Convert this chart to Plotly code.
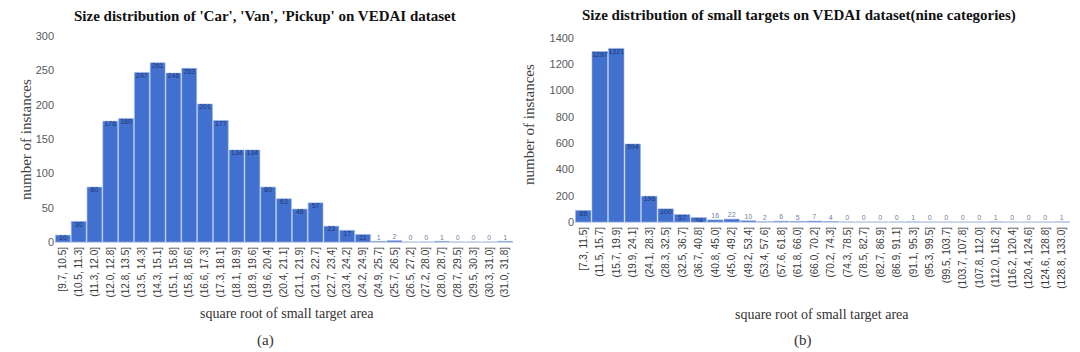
import plotly.graph_objects as go

# ---- data ----
cats_a = ["[9.7, 10.5]", "(10.5, 11.3]", "(11.3, 12.0]", "(12.0, 12.8]", "(12.8, 13.5]",
          "(13.5, 14.3]", "(14.3, 15.1]", "(15.1, 15.8]", "(15.8, 16.6]", "(16.6, 17.3]",
          "(17.3, 18.1]", "(18.1, 18.9]", "(18.9, 19.6]", "(19.6, 20.4]", "(20.4, 21.1]",
          "(21.1, 21.9]", "(21.9, 22.7]", "(22.7, 23.4]", "(23.4, 24.2]", "(24.2, 24.9]",
          "(24.9, 25.7]", "(25.7, 26.5]", "(26.5, 27.2]", "(27.2, 28.0]", "(28.0, 28.7]",
          "(28.7, 29.5]", "(29.5, 30.3]", "(30.3, 31.0]", "(31.0, 31.8]"]
vals_a = [10, 30, 80, 176, 180, 247, 261, 246, 253, 201, 177, 134, 134, 80, 63, 48, 57,
          23, 17, 11, 1, 2, 0, 0, 1, 0, 0, 0, 1]

cats_b = ["[7.3, 11.5]", "(11.5, 15.7]", "(15.7, 19.9]", "(19.9, 24.1]", "(24.1, 28.3]",
          "(28.3, 32.5]", "(32.5, 36.7]", "(36.7, 40.8]", "(40.8, 45.0]", "(45.0, 49.2]",
          "(49.2, 53.4]", "(53.4, 57.6]", "(57.6, 61.8]", "(61.8, 66.0]", "(66.0, 70.2]",
          "(70.2, 74.3]", "(74.3, 78.5]", "(78.5, 82.7]", "(82.7, 86.9]", "(86.9, 91.1]",
          "(91.1, 95.3]", "(95.3, 99.5]", "(99.5, 103.7]", "(103.7, 107.8]", "(107.8, 112.0]",
          "(112.0, 116.2]", "(116.2, 120.4]", "(120.4, 124.6]", "(124.6, 128.8]", "(128.8, 133.0]"]
vals_b = [88, 1297, 1321, 594, 196, 100, 57, 34, 16, 22, 10, 2, 6, 5, 7, 4, 0, 0, 0, 0,
          1, 0, 0, 0, 0, 1, 0, 0, 0, 1]

yticks_a = [0, 50, 100, 150, 200, 250, 300]
yticks_b = [0, 200, 400, 600, 800, 1000, 1200, 1400]

title_a = "Size distribution of 'Car', 'Van', 'Pickup' on VEDAI dataset"
title_b = "Size distribution of small targets on VEDAI dataset(nine categories)"

BAR = "#4270CF"
SERIF = "Liberation Serif, Times New Roman, serif"
SANS = "Liberation Sans, Arial, sans-serif"

fig = go.Figure()

def add_chart(cats, vals, xa, ya, thresh):
    fig.add_trace(go.Bar(x=cats, y=vals, xaxis=xa, yaxis=ya, marker_color=BAR,
                         marker_line=dict(color="#9DB5E6", width=0.6),
                         showlegend=False, hoverinfo="x+y"))
    inside = [(c, v) for c, v in zip(cats, vals) if v > thresh]
    outside = [(c, v) for c, v in zip(cats, vals) if v <= thresh]
    fig.add_trace(go.Scatter(x=[c for c, _ in inside], y=[v for _, v in inside],
                             xaxis=xa, yaxis=ya, mode="text", cliponaxis=False,
                             text=[str(v) for _, v in inside], textposition="bottom center",
                             textfont=dict(size=7, color="#1F3A70", family=SANS),
                             showlegend=False, hoverinfo="skip"))
    fig.add_trace(go.Scatter(x=[c for c, _ in outside], y=[v for _, v in outside],
                             xaxis=xa, yaxis=ya, mode="text", cliponaxis=False,
                             text=[str(v) for _, v in outside], textposition="top center",
                             textfont=dict(size=7, color="#6A7F9F", family=SANS),
                             showlegend=False, hoverinfo="skip"))

add_chart(cats_a, vals_a, "x", "y", 5)
add_chart(cats_b, vals_b, "x2", "y2", 30)

H = 352.0
W = 1080.0
def py(pix):
    return 1 - pix / H
def px(pix):
    return pix / W

xcommon = dict(type="category", tickangle=-90, showgrid=False, zeroline=False,
               showline=True, linecolor="#C9D3E6", linewidth=1, ticks="", automargin=False,
               tickfont=dict(size=10, color="#3A3A3A", family=SANS))
ycommon = dict(showgrid=False, zeroline=False, showline=False, ticks="", automargin=False,
               tickfont=dict(size=11, color="#595959", family=SANS))

fig.update_layout(
    width=1080, height=352,
    margin=dict(l=0, r=0, t=0, b=0),
    paper_bgcolor="white", plot_bgcolor="white",
    bargap=0.06,
    xaxis=dict(domain=[px(55), px(513)], anchor="y", range=[-0.5, len(cats_a) - 0.5], **xcommon),
    yaxis=dict(domain=[py(242), py(36)], anchor="x", range=[0, 300],
               tickvals=yticks_a, **ycommon),
    xaxis2=dict(domain=[px(575), px(1070)], anchor="y2", range=[-0.5, len(cats_b) - 0.5], **xcommon),
    yaxis2=dict(domain=[py(222), py(38)], anchor="x2", range=[0, 1400],
                tickvals=yticks_b, **ycommon),
)

ann = []
def txt(x, y, s, size, bold=False, angle=0, color="#262626"):
    ann.append(dict(x=px(x), y=py(y), xref="paper", yref="paper", text=("<b>%s</b>" % s) if bold else s,
                    showarrow=False, textangle=angle, xanchor="center", yanchor="middle",
                    font=dict(family=SERIF, size=size, color=color)))

txt(265, 16, title_a, 15, bold=True, color="#111111")
txt(799, 16, title_b, 15, bold=True, color="#111111")
txt(26, 140, "number of instances", 15, angle=-90, color="#404040")
txt(529, 125, "number of instances", 15, angle=-90, color="#404040")
txt(287, 313, "square root of small target area", 14, color="#333333")
txt(822, 314, "square root of small target area", 14, color="#333333")
txt(265, 340, "(a)", 15, color="#333333")
txt(803, 340, "(b)", 15, color="#333333")
fig.update_layout(annotations=ann)

fig.write_html("out.html")
